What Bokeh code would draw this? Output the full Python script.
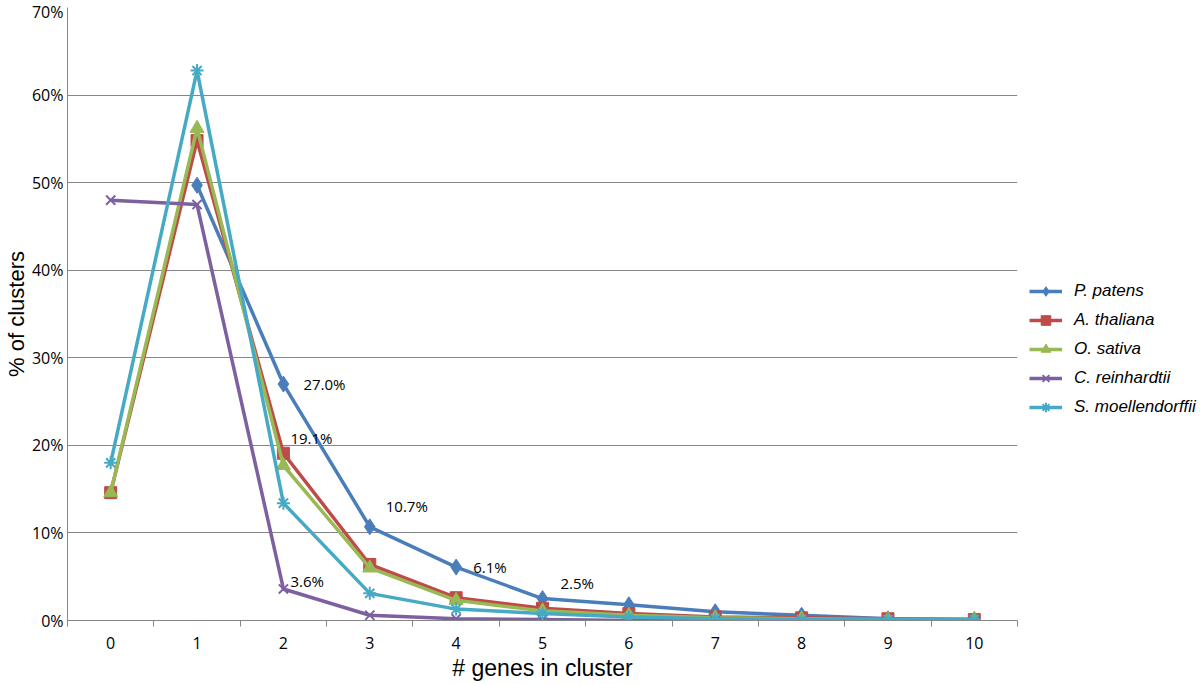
from bokeh.plotting import figure
from bokeh.models import (FixedTicker, PrintfTickFormatter, Legend, LegendItem,
                          ColumnDataSource, Range1d)
from bokeh.core.properties import value
from bokeh.embed import file_html
from bokeh.resources import INLINE

genes = [0, 1, 2, 3, 4, 5, 6, 7, 8, 9, 10]
nan = float("nan")
p_patens = [nan, 49.7, 27.0, 10.7, 6.1, 2.5, 1.8, 1.0, 0.6, 0.2, 0.1]
a_thaliana = [14.6, 54.8, 19.1, 6.4, 2.6, 1.4, 0.8, 0.4, 0.3, 0.2, 0.1]
o_sativa = [14.6, 56.2, 17.7, 6.0, 2.3, 1.1, 0.6, 0.3, 0.2, 0.1, 0.1]
c_reinhardtii = [48.0, 47.5, 3.6, 0.6, 0.2, 0.1, 0.0, 0.0, 0.0, 0.0, 0.0]
s_moellendorffii = [18.0, 62.8, 13.4, 3.1, 1.3, 0.8, 0.4, 0.2, 0.1, 0.1, 0.1]

series_names = ["P. patens", "A. thaliana", "O. sativa", "C. reinhardtii", "S. moellendorffii"]
series_values = [p_patens, a_thaliana, o_sativa, c_reinhardtii, s_moellendorffii]
colors = ["#4A7EBB", "#BE4B48", "#98B954", "#7D60A0", "#46AAC5"]
markers = ["diamond", "square", "triangle", "x", "asterisk"]
marker_sizes = [16, 12, 14, 13, 13]

label_x = [2, 2, 3, 4, 5, 2]
label_y = [27.0, 19.1, 10.7, 6.1, 2.5, 3.6]
label_text = ["27.0%", "19.1%", "10.7%", "6.1%", "2.5%", "3.6%"]
label_dx = [20, 7, 16, 17, 18, 7]
label_dy = [0, -15, -21, 0, -16, -8]

p = figure(frame_width=950, frame_height=613, output_backend="svg", toolbar_location=None,
           x_range=Range1d(-0.5, 10.5), y_range=Range1d(0, 70),
           min_border_left=60, min_border_right=0, min_border_top=7,
           min_border_bottom=56)
p.outline_line_color = None
p.background_fill_color = "white"

# grid
p.xgrid.grid_line_color = None
p.ygrid.grid_line_color = "#868686"
p.ygrid.grid_line_width = 1

# y axis
p.yaxis.ticker = FixedTicker(ticks=[0, 10, 20, 30, 40, 50, 60, 70])
p.yaxis.formatter = PrintfTickFormatter(format="%d%%")
p.yaxis.axis_line_color = "#868686"
p.yaxis.major_tick_line_color = None
p.yaxis.major_tick_out = 0
p.yaxis.major_tick_in = 0
p.yaxis.minor_tick_line_color = None
p.yaxis.major_label_text_font = "Open Sans"
p.yaxis.major_label_text_font_size = "16px"
p.yaxis.major_label_text_color = "#000000"
p.yaxis.major_label_standoff = 4
p.yaxis.axis_label = "% of clusters"
p.yaxis.axis_label_text_font = "Liberation Sans"
p.yaxis.axis_label_text_font_style = "normal"
p.yaxis.axis_label_text_font_size = "22px"
p.yaxis.axis_label_text_color = "#000000"
p.yaxis.axis_label_standoff = 0

# x axis
p.xaxis.ticker = FixedTicker(ticks=genes, minor_ticks=[g - 0.5 for g in genes] + [10.5])
p.xaxis.axis_line_color = "#868686"
p.xaxis.major_tick_line_color = None
p.xaxis.major_tick_out = 0
p.xaxis.major_tick_in = 0
p.xaxis.minor_tick_line_color = "#868686"
p.xaxis.minor_tick_out = 6
p.xaxis.minor_tick_in = 0
p.xaxis.major_label_text_font = "Open Sans"
p.xaxis.major_label_text_font_size = "16px"
p.xaxis.major_label_text_color = "#000000"
p.xaxis.major_label_standoff = 10
p.xaxis.axis_label = "# genes in cluster"
p.xaxis.axis_label_text_font = "Liberation Sans"
p.xaxis.axis_label_text_font_style = "normal"
p.xaxis.axis_label_text_font_size = "23px"
p.xaxis.axis_label_text_color = "#000000"
p.xaxis.axis_label_standoff = 3

items = []
for name, vals, col, mk, ms in zip(series_names, series_values, colors, markers, marker_sizes):
    src = ColumnDataSource(dict(x=genes, y=vals))
    ln = p.line("x", "y", source=src, line_color=col, line_width=3.5)
    sc = p.scatter("x", "y", source=src, marker=mk, size=ms, fill_color=col,
                   line_color=col, line_width=2 if mk in ("x", "asterisk") else 1)
    items.append(LegendItem(label=name, renderers=[ln, sc]))

lab_src = ColumnDataSource(dict(x=label_x, y=label_y, t=label_text, dx=label_dx, dy=label_dy))
p.text("x", "y", text="t", source=lab_src, x_offset="dx", y_offset="dy",
       text_font=value("Open Sans"), text_font_size="15px", text_color="#000000",
       text_baseline="middle", text_align="left")

legend = Legend(items=items, location=(12, 201))
legend.label_text_font = "Liberation Sans"
legend.label_text_font_style = "italic"
legend.label_text_font_size = "17px"
legend.label_text_color = "#000000"
legend.border_line_color = None
legend.background_fill_alpha = 0
legend.glyph_width = 33
legend.spacing = 5
legend.label_height = 24
legend.glyph_height = 24
legend.label_standoff = 12
legend.padding = 0
legend.margin = 0
p.add_layout(legend, "right")

open("out.html", "w").write(file_html(p, INLINE))
